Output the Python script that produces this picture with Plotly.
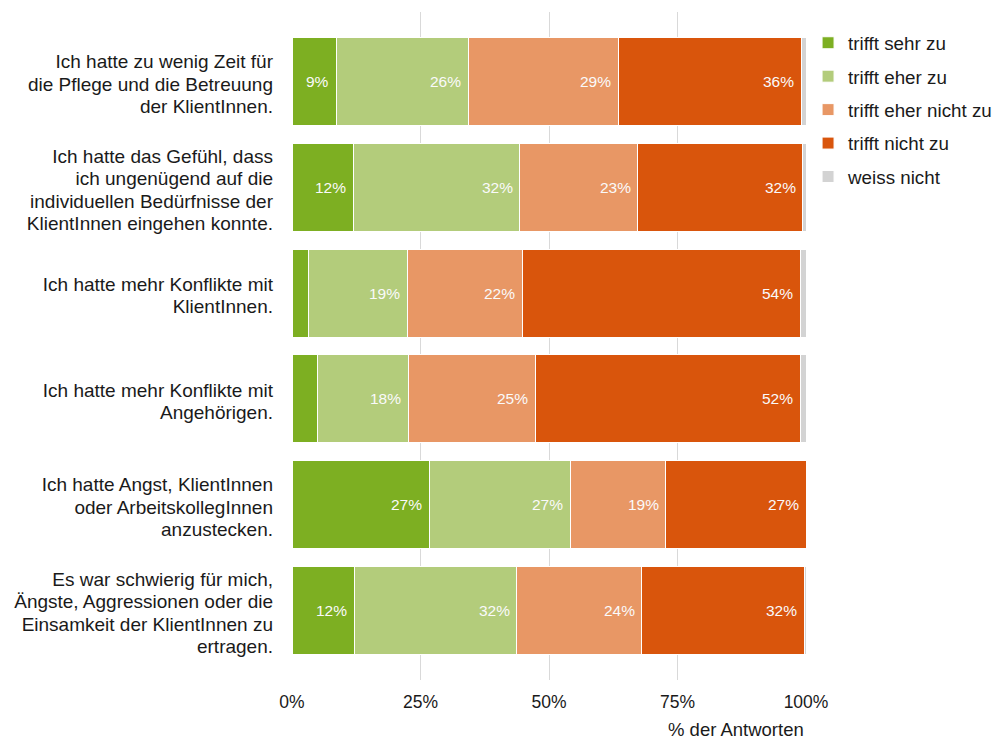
import plotly.graph_objects as go

questions = [
    "Ich hatte zu wenig Zeit für<br>die Pflege und die Betreuung<br>der KlientInnen.",
    "Ich hatte das Gefühl, dass<br>ich ungenügend auf die<br>individuellen Bedürfnisse der<br>KlientInnen eingehen konnte.",
    "Ich hatte mehr Konflikte mit<br>KlientInnen.",
    "Ich hatte mehr Konflikte mit<br>Angehörigen.",
    "Ich hatte Angst, KlientInnen<br>oder ArbeitskollegInnen<br>anzustecken.",
    "Es war schwierig für mich,<br>Ängste, Aggressionen oder die<br>Einsamkeit der KlientInnen zu<br>ertragen.",
]

series_names = ["trifft sehr zu", "trifft eher zu", "trifft eher nicht zu", "trifft nicht zu", "weiss nicht"]

trifft_sehr_zu = [8.6, 11.9, 3.3, 4.9, 26.7, 12.1]
trifft_eher_zu = [25.7, 32.4, 19.1, 17.7, 27.4, 31.6]
trifft_eher_nicht_zu = [29.2, 23.0, 22.4, 24.7, 18.6, 24.3]
trifft_nicht_zu = [35.6, 32.1, 54.1, 51.6, 27.3, 31.7]
weiss_nicht = [0.9, 0.6, 1.1, 1.1, 0.0, 0.3]

x_ticks = [0, 25, 50, 75, 100]
x_ticklabels = ["0%", "25%", "50%", "75%", "100%"]
x_title = "% der Antworten"

colors = ["#7DAF22", "#B3CC7B", "#E89765", "#D9550C", "#D3D3D3"]
series = [trifft_sehr_zu, trifft_eher_zu, trifft_eher_nicht_zu, trifft_nicht_zu, weiss_nicht]

FONT = "Liberation Sans, Arial, sans-serif"
TXT = "#1A1A1A"
ypos = list(range(len(questions)))

fig = go.Figure()
for i, (name, vals, col) in enumerate(zip(series_names, series, colors)):
    fig.add_trace(go.Bar(
        name=name, y=ypos, x=vals, orientation="h",
        marker=dict(color=col, line=dict(color="white", width=1)),
        legendgroup=name,
        hoverinfo="skip",
    ))

annotations = []
cum = [0.0] * len(questions)
for i, vals in enumerate(series):
    for j, v in enumerate(vals):
        end = cum[j] + v
        if v >= 5 and i < 4:
            annotations.append(dict(
                x=end, y=ypos[j], xref="x", yref="y", text=f"{round(v)}%",
                showarrow=False, xanchor="right", yanchor="middle", xshift=-5,
                font=dict(family=FONT, size=15.5, color="#FAFAFA"),
            ))
        cum[j] = end

annotations.append(dict(
    x=1, y=0, xref="paper", yref="paper", yshift=-49, text=x_title,
    showarrow=False, xanchor="right", yanchor="middle",
    font=dict(family=FONT, size=18.5, color=TXT),
))

# larger glyphs inside a tighter line pitch, like the original's labels
ytick_text = ['<span style="font-size:19px">' + q + '</span>' for q in questions]

fig.update_layout(
    barmode="stack",
    bargap=0.167,
    width=986, height=738,
    margin=dict(l=284, r=188, t=4, b=66, autoexpand=False),
    plot_bgcolor="white", paper_bgcolor="white",
    font=dict(family=FONT, size=19, color=TXT),
    showlegend=True,
    legend=dict(
        x=1.004, y=0.982, xanchor="left", yanchor="top",
        font=dict(family=FONT, size=18.8, color=TXT),
        traceorder="grouped", tracegroupgap=6,
        itemclick=False,
    ),
    annotations=annotations,
)
fig.update_xaxes(
    range=[0, 100], tickvals=x_ticks, ticktext=x_ticklabels,
    showgrid=True, gridcolor="#D9D9D9", gridwidth=1, zeroline=False,
    showline=False, ticks="", ticklabelstandoff=9,
    tickfont=dict(family=FONT, size=17.5, color=TXT),
)
fig.update_yaxes(
    tickvals=ypos, ticktext=ytick_text, range=[5.66, -0.66],
    showgrid=False, zeroline=False, showline=False, ticks="",
    ticklabelstandoff=18, ticklabelshift=-3,
    tickfont=dict(family=FONT, size=17.3, color=TXT),
)

fig.write_html("out.html")
